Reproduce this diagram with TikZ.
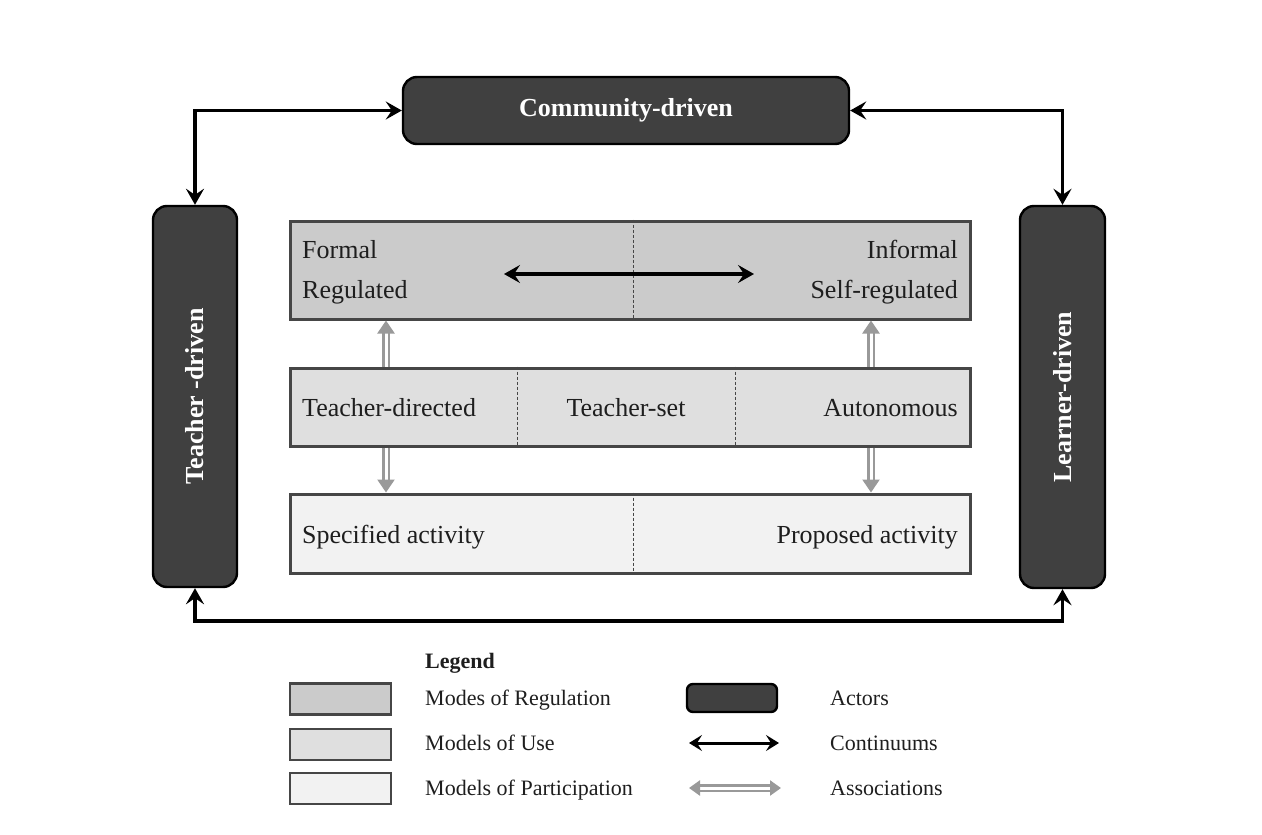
\documentclass[tikz,border=0pt]{standalone}
\usepackage{fontspec}
\setmainfont{Liberation Serif}
\usetikzlibrary{arrows.meta}
\definecolor{actorfill}{HTML}{404040}
\definecolor{regfill}{HTML}{CBCBCB}
\definecolor{usefill}{HTML}{DFDFDF}
\definecolor{partfill}{HTML}{F2F2F2}
\definecolor{boxline}{HTML}{464646}
\definecolor{assocgray}{HTML}{999999}
\definecolor{inktext}{HTML}{1E1E1E}
\begin{document}
\begin{tikzpicture}[x=1pt,y=-1pt,
 actor/.style={draw=black, line width=2.4pt, fill=actorfill, rounded corners=14pt, inner sep=0pt},
 band/.style={draw=boxline, line width=3pt, inner sep=0pt, minimum width=680pt},
 divider/.style={draw=boxline, dashed, line width=0.8pt, dash pattern=on 3pt off 2pt},
 maintext/.style={font=\fontsize{26}{30}\selectfont, text=inktext, inner sep=0pt},
 actortext/.style={font=\fontsize{26}{30}\selectfont\bfseries, text=white, inner sep=0pt},
 legtext/.style={font=\fontsize{22}{26}\selectfont, text=inktext, inner sep=0pt, anchor=base west},
 legbox/.style={draw=boxline, line width=2.6pt, inner sep=0pt, minimum width=101pt, minimum height=31pt},
 blacktip/.tip={Stealth[length=16pt,width=18pt,inset=6pt]},
 graytip/.tip={Triangle[length=13pt,width=17pt]},
 link/.style={draw=black, line width=3.2pt, blacktip-blacktip},
 assoc/.style={draw=assocgray, double=white, double distance=3pt, line width=2.4pt},
]
\useasboundingbox (0,0) rectangle (1262,835);
\fill[white] (0,0) rectangle (1262,835);

% actors
\node[actor, minimum width=446pt, minimum height=67pt] (community) at (626,110.5) {};
\node[actortext] (communitylabel) at (community.center) {Community-driven};
\node[actor, minimum width=84pt, minimum height=381pt] (teacher) at (195,396.5) {};
\node[actortext, rotate=90] (teacherlabel) at (teacher.center) {Teacher -driven};
\node[actor, minimum width=85pt, minimum height=382pt] (learner) at (1062.5,397) {};
\node[actortext, rotate=90] (learnerlabel) at (learner.center) {Learner-driven};

% connectors between actors
\coordinate (bottomline) at (0,621);
\draw[link] (teacher.north) |- (community.west);
\draw[link] (community.east) -| (learner.north);
\draw[link] (teacher.south) -- (teacher.south |- bottomline) -- (learner.south |- bottomline) -- (learner.south);

% bands
\node[band, fill=regfill, minimum height=98pt] (reg) at (630,270) {};
\node[band, fill=usefill, minimum height=78pt] (use) at (630,407) {};
\node[band, fill=partfill, minimum height=79pt] (part) at (630,533.5) {};

\coordinate (d1) at (633,0);
\coordinate (d2) at (517,0);
\coordinate (d3) at (735,0);
\draw[divider] (reg.north -| d1) -- (reg.south -| d1);
\draw[divider] (use.north -| d2) -- (use.south -| d2);
\draw[divider] (use.north -| d3) -- (use.south -| d3);
\draw[divider] (part.north -| d1) -- (part.south -| d1);

% texts
\node[maintext, anchor=base west] (formal) at (302,258) {Formal};
\node[maintext, anchor=base west] (regulated) at (302,298.5) {Regulated};
\node[maintext, anchor=base east] (informal) at (958,258) {Informal};
\node[maintext, anchor=base east] (selfreg) at (958,298.5) {Self-regulated};
\node[maintext, anchor=base west] (tdirected) at (302,416.5) {Teacher-directed};
\node[maintext, anchor=base] (tset) at (626,416.5) {Teacher-set};
\node[maintext, anchor=base east] (autonomous) at (958,416.5) {Autonomous};
\node[maintext, anchor=base west] (specified) at (302,543) {Specified activity};
\node[maintext, anchor=base east] (proposed) at (958,543) {Proposed activity};

% continuum arrow
\coordinate (contl) at (504,274);
\coordinate (contr) at (754,274);
\draw[link] (contl) -- (contr);

% association arrows
\coordinate (a1) at (386,0);
\coordinate (a2) at (871,0);
\draw[assoc, -graytip] (use.north -| a1) -- (reg.south -| a1);
\draw[assoc, -graytip] (use.south -| a1) -- (part.north -| a1);
\draw[assoc, -graytip] (use.north -| a2) -- (reg.south -| a2);
\draw[assoc, -graytip] (use.south -| a2) -- (part.north -| a2);

% legend
\node[font=\fontsize{22}{26}\selectfont\bfseries, text=inktext, inner sep=0pt, anchor=base west] (legendtitle) at (425,668) {Legend};
\node[legbox, fill=regfill] (legreg) at (340.5,699) {};
\node[legbox, fill=usefill] (leguse) at (340.5,744.5) {};
\node[legbox, fill=partfill] (legpart) at (340.5,788.5) {};
\node[legtext] (legregtext) at (425,705.5) {Modes of Regulation};
\node[legtext] (legusetext) at (425,750.5) {Models of Use};
\node[legtext] (legparttext) at (425,795.5) {Models of Participation};
\node[actor, rounded corners=6pt, minimum width=90pt, minimum height=28pt] (legactor) at (732,698) {};
\coordinate (lcl) at (689,743);
\coordinate (lcr) at (779,743);
\draw[draw=black, line width=3pt, {Stealth[length=13pt,width=16pt,inset=5pt]}-{Stealth[length=13pt,width=16pt,inset=5pt]}] (lcl) -- (lcr);
\coordinate (lal) at (689,788);
\coordinate (lar) at (781,788);
\draw[assoc, {Triangle[length=11pt,width=15pt]}-{Triangle[length=11pt,width=15pt]}] (lal) -- (lar);
\node[legtext] (legactortext) at (830,705.5) {Actors};
\node[legtext] (legconttext) at (830,750.5) {Continuums};
\node[legtext] (legassoctext) at (830,795.5) {Associations};
\end{tikzpicture}
\end{document}
